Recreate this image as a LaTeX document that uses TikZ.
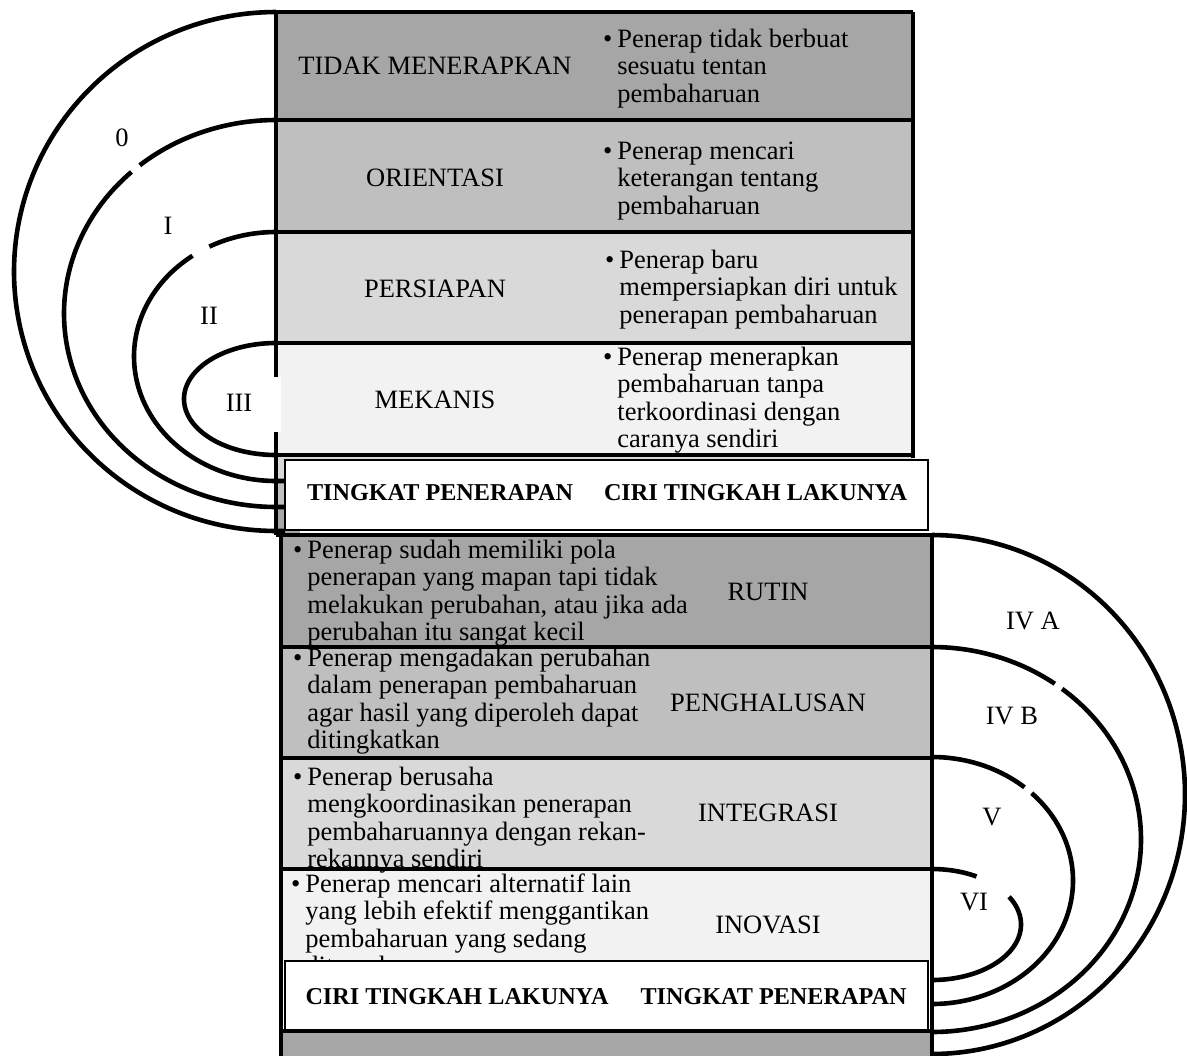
\documentclass[tikz,border=0pt]{standalone}
\usepackage{fontspec}
\setmainfont{Liberation Serif}
\usetikzlibrary{positioning}
\definecolor{gA}{HTML}{A6A6A6}
\definecolor{gB}{HTML}{BFBFBF}
\definecolor{gC}{HTML}{D9D9D9}
\definecolor{gD}{HTML}{F2F2F2}
\newcommand{\pbul}{\llap{\textbullet\hspace{2.5pt}}}

\begin{document}
\begin{tikzpicture}[x=0.5pt, y=-0.5pt,
  lvl/.style={font=\fontsize{13.25pt}{13.75pt}\selectfont, inner sep=0pt},
  desc/.style={lvl, align=left, anchor=north west},
  hdr/.style={font=\bfseries\fontsize{12.1pt}{13pt}\selectfont, inner sep=0pt},
  hdbox/.style={fill=white, draw, line width=0.7pt},
  frame/.style={line width=2.4pt},
  arcln/.style={line width=2.3pt, line join=round}
]
\useasboundingbox (0,0) rectangle (1187,1055);

% upper table
\fill[gA] (276,12) rectangle (913,120);
\fill[gB] (276,120) rectangle (913,232);
\fill[gC] (276,232) rectangle (913,343);
\fill[gD] (276,343) rectangle (913,455);
\fill[gC] (276,455) rectangle (913,482);
\fill[gB] (276,482) rectangle (300,508);
\fill[gA] (276,508) rectangle (300,535);

% lower table
\fill[gA] (281,535) rectangle (932,647);
\fill[gB] (281,647) rectangle (932,758);
\fill[gC] (281,758) rectangle (932,869);
\fill[gD] (281,869) rectangle (932,961);
\fill[gA] (281,1031) rectangle (932,1060);

\node[lvl] (tidak) at (435,66) {TIDAK MENERAPKAN};
\node[lvl] (orient) at (435,178) {ORIENTASI};
\node[lvl] (persiap) at (435,289) {PERSIAPAN};
\node[lvl] (mekanis) at (435,400) {MEKANIS};
\node[desc] (dtidak) at (617,27.75) {\strut\pbul Penerap tidak berbuat\\sesuatu tentan\\pembaharuan};
\node[desc] (dorient) at (617,139.75) {\strut\pbul Penerap mencari\\keterangan tentang\\pembaharuan};
\node[desc] (dpersiap) at (619,248.75) {\strut\pbul Penerap baru\\mempersiapkan diri untuk\\penerapan pembaharuan};
\node[desc] (dmekanis) at (617,345.75) {\strut\pbul Penerap menerapkan\\pembaharuan tanpa\\terkoordinasi dengan\\caranya sendiri};

\node[lvl] (rutin) at (768,592) {RUTIN};
\node[lvl] (halus) at (768,703) {PENGHALUSAN};
\node[lvl] (integ) at (768,813) {INTEGRASI};
\node[lvl] (inov) at (768,925) {INOVASI};
\node[desc] (drutin) at (307,538.75) {\strut\pbul Penerap sudah memiliki pola\\penerapan yang mapan tapi tidak\\melakukan perubahan, atau jika ada\\perubahan itu sangat kecil};
\node[desc] (dhalus) at (307,646.75) {\strut\pbul Penerap mengadakan perubahan\\dalam penerapan pembaharuan\\agar hasil yang diperoleh dapat\\ditingkatkan};
\node[desc] (dinteg) at (307,765.75) {\strut\pbul Penerap berusaha\\mengkoordinasikan penerapan\\pembaharuannya dengan rekan-\\rekannya sendiri};
\node[desc] (dinov) at (305,872.75) {\strut\pbul Penerap mencari alternatif lain\\yang lebih efektif menggantikan\\pembaharuan yang sedang\\diterapkan};

\draw[frame] (276,12) -- (913,12);
\draw[frame] (276,12) -- (276,535);
\draw[frame] (913,12) -- (913,458);
\foreach \yy in {120,232,343,455}
  \draw[frame] (276,\yy) -- (913,\yy);
\draw[frame] (276,535) -- (932,535);
\draw[frame] (281,535) -- (281,1060);
\draw[frame] (932,535) -- (932,1060);
\foreach \yy in {647,758,869,1031}
  \draw[frame] (281,\yy) -- (932,\yy);
\fill[white] (269,377) rectangle (281,432);

% left arcs
\draw[arcln] plot[domain=90:270, samples=120] ({276+262*cos(\x)}, {271.5-259.5*sin(\x)}) -- (285,531);
\draw[arcln] plot[domain=90:130, samples=30] ({276+212*cos(\x)}, {313.5-193.5*sin(\x)});
\draw[arcln] plot[domain=133:270, samples=90] ({276+212*cos(\x)}, {313.5-193.5*sin(\x)}) -- (285,507);
\draw[arcln] plot[domain=90:118, samples=20] ({276+142*cos(\x)}, {356.5-124.5*sin(\x)});
\draw[arcln] plot[domain=126:270, samples=80] ({276+142*cos(\x)}, {356.5-124.5*sin(\x)}) -- (285,481);
\draw[arcln] plot[domain=90:270, samples=80] ({276+92*cos(\x)}, {399-56*sin(\x)});

% right arcs
\draw[arcln] plot[domain=90:-90, samples=120] ({932+253*cos(\x)}, {794.5-259.5*sin(\x)});
\draw[arcln] plot[domain=90:54, samples=30] ({932+209*cos(\x)}, {839.5-192.5*sin(\x)});
\draw[arcln] plot[domain=51.5:-90, samples=90] ({932+209*cos(\x)}, {839.5-192.5*sin(\x)});
\draw[arcln] plot[domain=90:49, samples=25] ({932+141*cos(\x)}, {880.5-123.5*sin(\x)});
\draw[arcln] plot[domain=45:-90, samples=80] ({932+141*cos(\x)}, {880.5-123.5*sin(\x)});
\draw[arcln] plot[domain=90:60, samples=20] ({932+89*cos(\x)}, {924.5-55.5*sin(\x)});
\draw[arcln] plot[domain=30:-90, samples=60] ({932+89*cos(\x)}, {924.5-55.5*sin(\x)});

\node[lvl] (r0) at (122,138) {0};
\node[lvl] (rI) at (168,226) {I};
\node[lvl] (rII) at (209,316) {II};
\node[lvl] (rIII) at (239,403) {III};
\node[lvl] (rIVA) at (1033,621) {IV A};
\node[lvl] (rIVB) at (1012,716) {IV B};
\node[lvl] (rV) at (992,817) {V};
\node[lvl] (rVI) at (974,902) {VI};

% header strips
\draw[hdbox] (285,460) rectangle (928,530);
\node[hdr] (tp1) at (440,493) {TINGKAT PENERAPAN};
\node[hdr] (ct1) at (755.5,493) {CIRI TINGKAH LAKUNYA};
\draw[hdbox] (285,961) rectangle (928,1030);
\node[hdr] (ct2) at (457,997) {CIRI TINGKAH LAKUNYA};
\node[hdr] (tp2) at (773.5,997) {TINGKAT PENERAPAN};
\end{tikzpicture}
\end{document}
